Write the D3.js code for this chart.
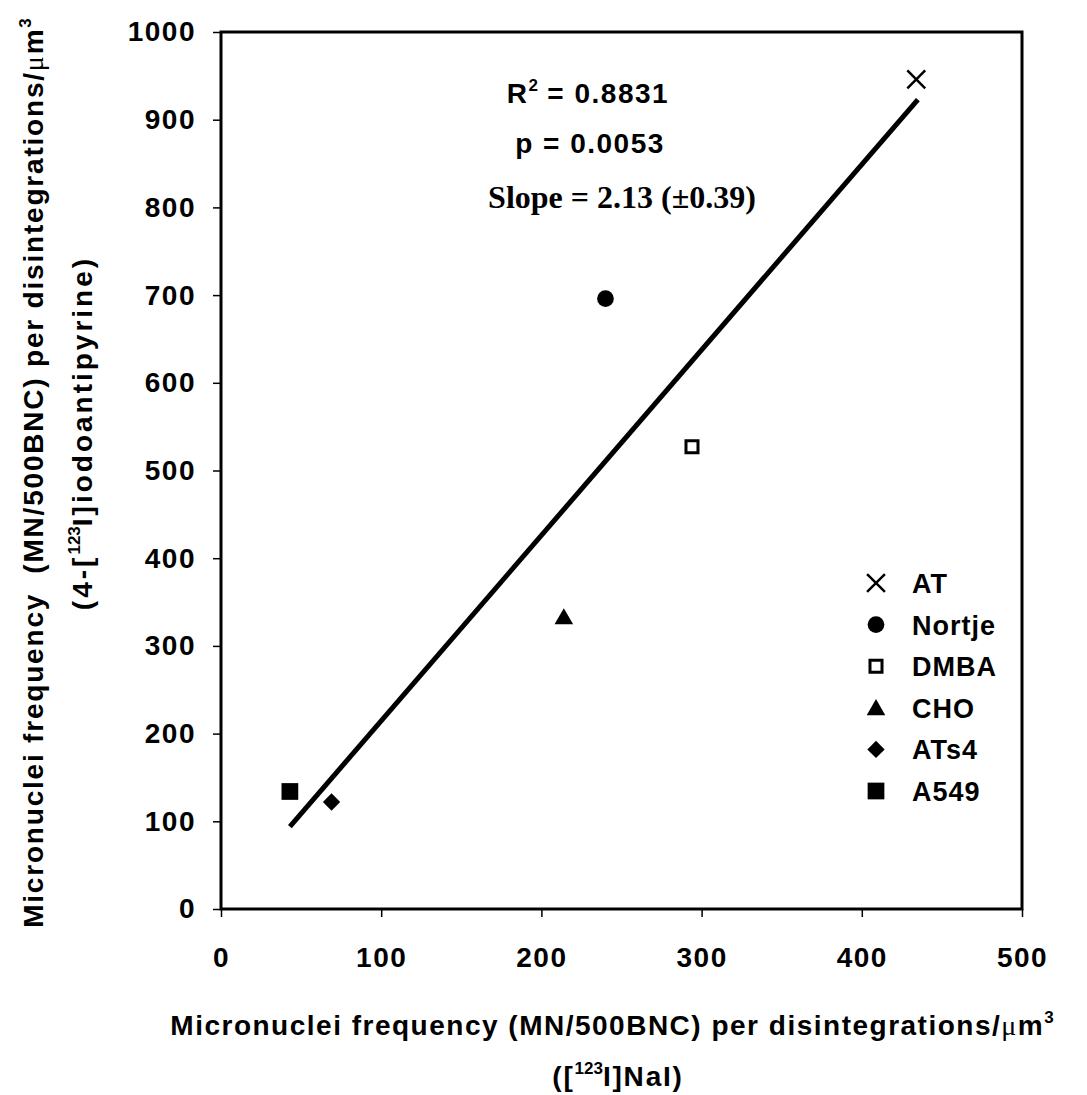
<!DOCTYPE html>
<html>
<head>
<meta charset="utf-8">
<script src="https://cdn.jsdelivr.net/npm/d3@7"></script>
<style>
body { margin: 0; background: #fff; }
text { font-family: "Liberation Sans", Arial, sans-serif; font-weight: bold; fill: #000; }
</style>
</head>
<body>
<svg id="chart" width="1087" height="1095"></svg>
<script>
// values
var cellLines = ['AT', 'Nortje', 'DMBA', 'CHO', 'ATs4', 'A549']
var naiValues = [434, 240, 294, 214, 69, 43]
var antipyrineValues = [946, 696, 527, 333, 122, 134]
var markerTypes = ['x', 'circle', 'openSquare', 'triangle', 'diamond', 'square']
var fitStart = [43, 94]
var fitEnd = [435, 923]
var xTicks = [0, 100, 200, 300, 400, 500]
var yTicks = [0, 100, 200, 300, 400, 500, 600, 700, 800, 900, 1000]
var rSquared = '0.8831'
var pValue = '0.0053'
var slopeText = '2.13 (\u00b10.39)'

var svg = d3.select('#chart')
svg.append('rect').attr('width', 1087).attr('height', 1095).attr('fill', '#fff')

var plotLeft = 221, plotTop = 32, plotRight = 1022, plotBottom = 909

var x = d3.scaleLinear().domain([0, 500]).range([plotLeft, plotRight])
var y = d3.scaleLinear().domain([0, 1000]).range([plotBottom, plotTop])

// helpers
function symbolFor(type) {
	var xSym = d3.symbolX || {
		draw: function (ctx, size) {
			var r = Math.sqrt(size) * 0.62
			ctx.moveTo(-r, -r); ctx.lineTo(r, r)
			ctx.moveTo(-r, r); ctx.lineTo(r, -r)
		}
	}
	switch (type) {
		case 'x': return d3.symbol(xSym, 210)()
		case 'circle': return d3.symbol(d3.symbolCircle, 220)()
		case 'openSquare': return d3.symbol(d3.symbolSquare, 144)()
		case 'triangle': return d3.symbol(d3.symbolTriangle, 150)()
		case 'diamond': return d3.symbol(d3.symbolSquare, 150)()
		case 'square': return d3.symbol(d3.symbolSquare, 280)()
	}
}

function drawMarker(g, type) {
	var p = g.append('path').attr('d', symbolFor(type))
	if (type === 'x') {
		p.attr('fill', 'none').attr('stroke', '#000').attr('stroke-width', 2.5)
	} else if (type === 'openSquare') {
		p.attr('fill', '#fff').attr('stroke', '#000').attr('stroke-width', 3)
	} else {
		p.attr('fill', '#000')
	}
	if (type === 'diamond') p.attr('transform', 'rotate(45)')
	if (type === 'triangle') p.attr('transform', 'translate(0, 2)')
}

function sup(t, txt) {
	t.append('tspan').attr('dy', -12).attr('font-size', 17).style('letter-spacing', '0px').text(txt)
}

// axes
svg.append('g')
	.attr('transform', `translate(${plotLeft}, 0)`)
	.call(d3.axisLeft(y).tickValues(yTicks).tickFormat(d3.format('d')).tickSize(8).tickPadding(17))
svg.append('g')
	.attr('transform', `translate(0, ${plotBottom})`)
	.call(d3.axisBottom(x).tickValues(xTicks).tickFormat(d3.format('d')).tickSize(8).tickPadding(30))

svg.selectAll('.domain').remove()
svg.selectAll('.tick line').attr('stroke', '#000').attr('stroke-width', 1.5)
svg.selectAll('.tick text')
	.attr('font-size', 28)
	.attr('font-family', '"Liberation Sans", Arial, sans-serif')
	.attr('font-weight', 'bold')
	.attr('fill', '#000')
	.style('letter-spacing', '1.5px')

// plot frame
svg.append('rect')
	.attr('x', plotLeft).attr('y', plotTop)
	.attr('width', plotRight - plotLeft).attr('height', plotBottom - plotTop)
	.attr('fill', 'none').attr('stroke', '#000').attr('stroke-width', 3)

// regression line
svg.append('line')
	.attr('x1', x(fitStart[0])).attr('y1', y(fitStart[1]))
	.attr('x2', x(fitEnd[0])).attr('y2', y(fitEnd[1]))
	.attr('stroke', '#000').attr('stroke-width', 5)

// points
cellLines.forEach(function (name, i) {
	var g = svg.append('g')
		.attr('transform', `translate(${x(naiValues[i])}, ${y(antipyrineValues[i])})`)
	drawMarker(g, markerTypes[i])
})

// legend
var legendY = d3.scalePoint().domain(cellLines).range([583, 791])
cellLines.forEach(function (name, i) {
	var g = svg.append('g').attr('transform', `translate(876, ${legendY(name)})`)
	drawMarker(g, markerTypes[i])
	g.append('text')
		.attr('x', 36).attr('y', 10)
		.attr('font-size', 27)
		.style('letter-spacing', '1px')
		.text(name)
})

// stats annotation
var r2 = svg.append('text').attr('x', 588).attr('y', 103).attr('text-anchor', 'middle')
	.attr('font-size', 28).style('letter-spacing', '1.5px')
r2.append('tspan').text('R')
sup(r2, '2')
r2.append('tspan').attr('dy', 12).text(' = ' + rSquared)

svg.append('text').attr('x', 590).attr('y', 153).attr('text-anchor', 'middle')
	.attr('font-size', 28).style('letter-spacing', '1.5px')
	.text('p = ' + pValue)

svg.append('text').attr('x', 622).attr('y', 208).attr('text-anchor', 'middle')
	.attr('font-size', 32)
	.style('font-family', '"Liberation Serif", "Times New Roman", serif')
	.text('Slope = ' + slopeText)

// x axis title
var xt = svg.append('text').attr('x', 612).attr('y', 1035).attr('text-anchor', 'middle')
	.attr('font-size', 28).style('letter-spacing', '1.5px')
xt.append('tspan').text('Micronuclei frequency (MN/500BNC) per disintegrations/')
xt.append('tspan').style('font-family', '"Liberation Serif", serif').style('font-weight', 'normal').text('\u03bc')
xt.append('tspan').text('m')
sup(xt, '3')

var xt2 = svg.append('text').attr('x', 618).attr('y', 1086).attr('text-anchor', 'middle')
	.attr('font-size', 28).style('letter-spacing', '1.8px')
xt2.append('tspan').text('([')
sup(xt2, '123')
xt2.append('tspan').attr('dy', 12).text('I]NaI)')

// y axis title
var yt = svg.append('text')
	.attr('transform', 'translate(43, 473) rotate(-90)')
	.attr('text-anchor', 'middle').attr('font-size', 28)
	.style('white-space', 'pre').style('letter-spacing', '1.8px')
yt.append('tspan').text('Micronuclei frequency  (MN/500BNC) per disintegrations/')
yt.append('tspan').style('font-family', '"Liberation Serif", serif').style('font-weight', 'normal').text('\u03bc')
yt.append('tspan').text('m')
sup(yt, '3')

var yt2 = svg.append('text')
	.attr('transform', 'translate(92, 433) rotate(-90)')
	.attr('text-anchor', 'middle').attr('font-size', 28).style('letter-spacing', '3px')
yt2.append('tspan').text('(4-[')
sup(yt2, '123')
yt2.append('tspan').attr('dy', 12).text('I]iodoantipyrine)')
</script>
</body>
</html>
